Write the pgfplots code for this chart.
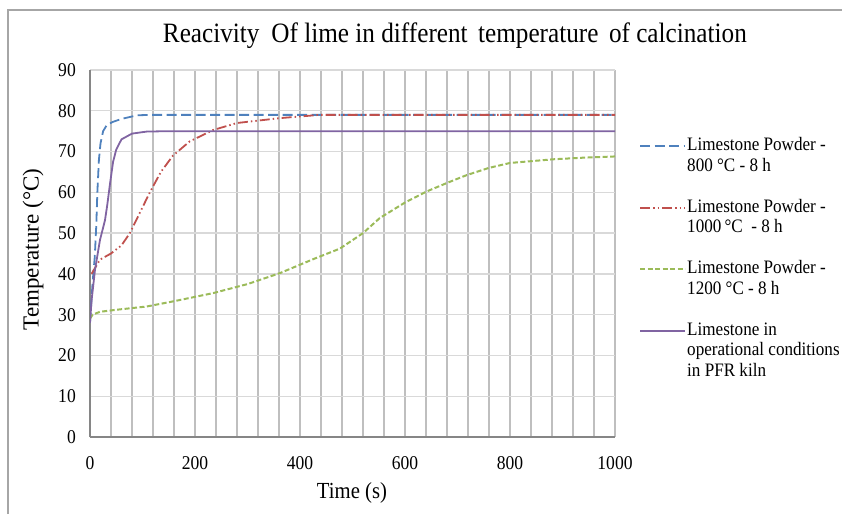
\documentclass[border=0pt]{standalone}
\usepackage{fontspec}
\setmainfont[FakeStretch=0.9]{Liberation Serif}
\newfontfamily\ylabfont{Liberation Serif}
\usepackage{pgfplots}
\pgfplotsset{compat=1.18}
\definecolor{cblue}{RGB}{79,129,189}
\definecolor{cred}{RGB}{192,80,77}
\definecolor{cgreen}{RGB}{155,187,89}
\definecolor{cpurple}{RGB}{128,100,162}
\definecolor{vgrid}{RGB}{191,191,191}
\definecolor{hgrid}{RGB}{217,217,217}
\definecolor{axgray}{RGB}{134,134,134}
\definecolor{framegray}{RGB}{166,166,166}
\begin{document}
\begin{tikzpicture}[x=1pt,y=1pt]
\path[use as bounding box] (0,0) rectangle (842,514);
\draw[color=framegray, line width=1.5pt] (8,0) -- (8,504) -- (842,504);
\begin{axis}[
  at={(90pt,77pt)}, anchor=south west,
  scale only axis, width=525pt, height=367pt,
  xmin=0, xmax=1000, ymin=0, ymax=90,
  xtick distance=200, ytick distance=10,
  minor x tick num=4,
  axis lines=left,
  axis line style={-, draw=axgray, line width=1.5pt},
  major tick length=0pt, minor tick length=0pt,
  xmajorgrids, xminorgrids, ymajorgrids,
  x grid style={draw=vgrid, line width=1.8pt},
  minor x grid style={draw=vgrid, line width=1.8pt},
  y grid style={draw=hgrid, line width=1.3pt},
  /pgf/number format/assume math mode=true,
  /pgf/number format/set thousands separator={},
  ticklabel style={font=\fontsize{19.5}{20}\selectfont, inner sep=0pt},
  yticklabel style={anchor=east, xshift=-14pt},
  xticklabel style={anchor=north, yshift=-19pt},
  title={Reacivity\hspace{0.2em} Of lime in different\hspace{0.15em} temperature\hspace{0.15em} of calcination},
  title style={at={(axis description cs:0.695,1.0763)}, anchor=center, font=\fontsize{28}{28}\selectfont, inner sep=0pt},
  xlabel={Time (s)},
  xlabel style={at={(axis description cs:0.499,-0.1526)}, anchor=center, font=\fontsize{23}{23}\selectfont, inner sep=0pt},
  ylabel={Temperature (°C)},
  ylabel style={at={(axis description cs:-0.1086,0.511)}, anchor=center, rotate=0, font=\ylabfont\fontsize{23}{23}\selectfont, inner sep=0pt},
  legend cell align=left,
  legend image code/.code={\draw[#1] (0pt,0pt) -- (45pt,0pt);},
  legend style={at={(axis description cs:1.04,0.826)}, anchor=north west, draw=none, fill=none,
     font=\fontsize{19}{19.5}\selectfont, row sep=0pt,
     nodes={inner sep=1pt, text height=13.8pt, text depth=4.7pt}},
]
\addplot[cblue, line width=1.8pt, dash pattern=on 10pt off 4.5pt] coordinates {
(0,28) (5,38) (9,44) (12,52) (14,60) (17,68) (20,72) (25,75) (32,76.5) (44,77.3) (60,78) (90,78.9) (120,79) (300,79) (500,79) (700,79) (1000,79)};
\addlegendentry{Limestone Powder -}
\addlegendimage{empty legend}\addlegendentry{800 °C - 8 h}
\addlegendimage{empty legend}\addlegendentry{\mbox{}}
\addplot[cred, line width=1.8pt, dash pattern=on 10pt off 3pt on 1.5pt off 3pt on 1.5pt off 3pt] coordinates {
(3,40) (19,43.5) (40,45) (60,47) (76,50) (95,55) (114,60) (135,65) (158,69) (190,72.5) (235,75.3) (280,77) (362,78.2) (438,79) (600,79) (800,79) (1000,79)};
\addlegendentry{Limestone Powder -}
\addlegendimage{empty legend}\addlegendentry{1000\,°C\ \ - 8 h}
\addlegendimage{empty legend}\addlegendentry{\mbox{}}
\addplot[cgreen, line width=2pt, dash pattern=on 5pt off 2.5pt] coordinates {
(0,29) (5,30) (19,30.7) (50,31.2) (108,32) (160,33.3) (235,35.3) (300,37.5) (362,40.2) (425,43.6) (476,46.2) (520,50) (552,53.7) (600,57.5) (641,60.2) (680,62.3) (717,64.2) (760,66) (800,67.2) (882,68.1) (940,68.5) (1000,68.8)};
\addlegendentry{Limestone Powder -}
\addlegendimage{empty legend}\addlegendentry{1200 °C - 8 h}
\addlegendimage{empty legend}\addlegendentry{\mbox{}}
\addplot[cpurple, line width=1.8pt] coordinates {
(0,28) (3,33.5) (9.5,41) (19,48.3) (28.6,53.2) (33,57) (38,62) (44,67.5) (50,70.5) (60,73) (80,74.4) (108,74.9) (150,75) (400,75) (700,75) (1000,75)};
\addlegendentry{Limestone in}
\addlegendimage{empty legend}\addlegendentry{operational conditions}
\addlegendimage{empty legend}\addlegendentry{in PFR kiln}
\end{axis}
\end{tikzpicture}
\end{document}
